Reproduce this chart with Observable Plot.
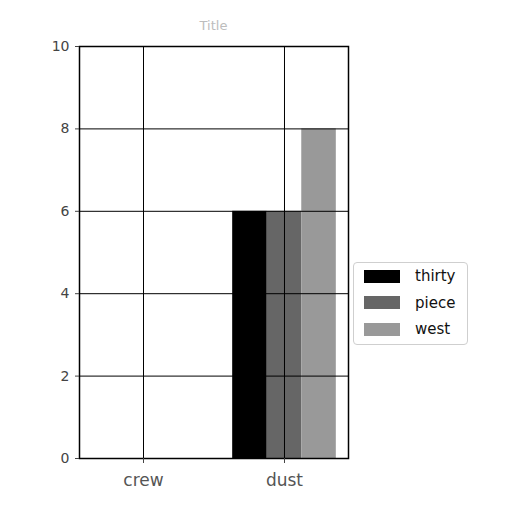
<!DOCTYPE html>
<html>
<head>
<meta charset="utf-8">
<script src="https://cdn.jsdelivr.net/npm/d3@7"></script>
<script src="https://cdn.jsdelivr.net/npm/@observablehq/plot@0.6"></script>
<style>
  body { margin: 0; background: #fff; }
  #wrap { position: relative; width: 512px; height: 512px; font-family: "DejaVu Sans", sans-serif; }
  #title { position: absolute; left: 0; width: 427px; top: 18px; text-align: center; font-size: 13px; color: #bdbdbd; }
  #legend { position: absolute; left: 353px; top: 262px; width: 115px; height: 83px; box-sizing: border-box;
    border: 1.5px solid #cfcfcf; border-radius: 4px; background: #fff; padding: 0 0 0 10px; }
  .row { display: flex; align-items: center; height: 26.5px; font-size: 15px; color: #111; }
  .sw { width: 36px; height: 13px; margin-right: 15px; }
</style>
</head>
<body>
<div id="wrap">
  <div id="chart"></div>
  <div id="title"></div>
  <div id="legend"></div>
</div>
<script>
const titleText = "Title";
const categories = ["crew", "dust"];
const seriesNames = ["thirty", "piece", "west"];
const thirty = [0, 6];
const piece = [0, 6];
const west = [0, 8];
const yTicks = [0, 2, 4, 6, 8, 10];
const colors = ["#000000", "#666666", "#999999"];

const seriesValues = { thirty, piece, west };
const barWidth = 0.245;
const data = categories.flatMap((c, i) =>
  seriesNames.map((s, j) => ({ category: c, ci: i, series: s, sj: j, value: seriesValues[s][i] }))
);
const catIdx = categories.map((c, i) => i);

const chart = Plot.plot({
  width: 512,
  height: 512,
  marginLeft: 79,
  marginRight: 164,
  marginTop: 46,
  marginBottom: 54,
  style: { fontFamily: "DejaVu Sans, sans-serif", background: "transparent" },
  x: { domain: [-0.454, 1.454], label: null },
  y: { domain: [0, 10], label: null },
  color: { domain: seriesNames, range: colors },
  marks: [
    Plot.rectY(data, {
      x1: d => d.ci + (d.sj - 1.5) * barWidth,
      x2: d => d.ci + (d.sj - 0.5) * barWidth,
      y1: 0,
      y2: "value",
      fill: "series"
    }),
    Plot.gridX(catIdx, { stroke: "#000", strokeOpacity: 1, strokeWidth: 1 }),
    Plot.gridY(yTicks, { stroke: "#000", strokeOpacity: 1, strokeWidth: 1 }),
    Plot.frame({ stroke: "#000", strokeWidth: 1.5 }),
    Plot.axisY(yTicks, { tickSize: 4, tickPadding: 6, fontSize: 14, fill: "#444", stroke: "#444", label: null }),
    Plot.axisX(catIdx, { tickSize: 5, tickPadding: 10, fontSize: 17, fill: "#555", stroke: "#444", label: null,
      tickFormat: i => categories[i] })
  ]
});
document.getElementById("chart").appendChild(chart);
document.getElementById("title").textContent = titleText;

const legend = document.getElementById("legend");
seriesNames.forEach((s, j) => {
  const row = document.createElement("div");
  row.className = "row";
  const sw = document.createElement("div");
  sw.className = "sw";
  sw.style.background = colors[j];
  const label = document.createElement("span");
  label.textContent = s;
  row.appendChild(sw);
  row.appendChild(label);
  legend.appendChild(row);
});
</script>
</body>
</html>
